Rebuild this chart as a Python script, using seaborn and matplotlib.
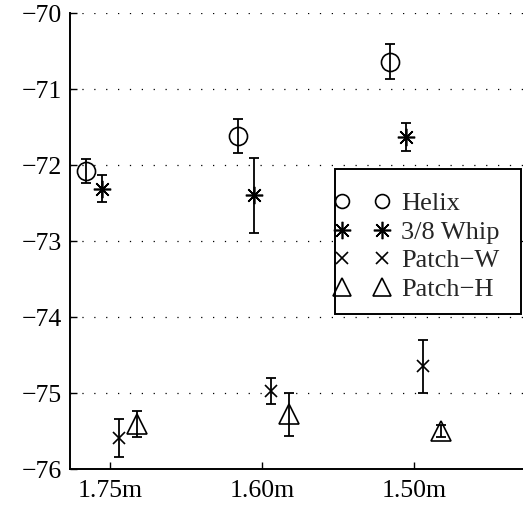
import numpy as np
import matplotlib
matplotlib.use("Agg")
import matplotlib.pyplot as plt
import seaborn as sns
from matplotlib.lines import Line2D
from matplotlib.patches import Rectangle

# antenna length groups
groups = ["1.75m", "1.60m", "1.50m"]

# mean level (dB) and error bar half-width per antenna
helix = [-72.08, -71.62, -70.64]
helix_err = [0.16, 0.22, 0.23]
whip = [-72.31, -72.40, -71.63]
whip_err = [0.18, 0.49, 0.18]
patch_w = [-75.59, -74.97, -74.65]
patch_w_err = [0.25, 0.17, 0.35]
patch_h = [-75.41, -75.28, -75.50]
patch_h_err = [0.17, 0.28, 0.08]

sns.set_style("white")
plt.rcParams["font.family"] = ["Liberation Serif", "DejaVu Serif"]

fig = plt.figure(figsize=(5.23, 5.09), dpi=100)
ax = fig.add_axes([70 / 523, 1 - 469 / 509, 1 - 70 / 523, 456 / 509])

# (label, values, errors, x offset, marker, size)
series = [
    ("Helix", helix, helix_err, -0.16, "o", 13),
    ("3/8 Whip", whip, whip_err, -0.055, (8, 2, 0), 12.5),
    ("Patch\u2212W", patch_w, patch_w_err, 0.06, "x", 8.5),
    ("Patch\u2212H", patch_h, patch_h_err, 0.175, "^", 15),
]

pos = np.arange(len(groups))
handles = []
for label, vals, errs, off, mk, ms in series:
    ax.errorbar(pos + off, vals, yerr=errs, fmt="none", ecolor="k",
                elinewidth=1.3, capsize=3.3, capthick=1.3, zorder=3)
    ax.plot(pos + off, vals, ls="none", marker=mk, ms=ms, mfc="none",
            mec="k", mew=1.2, zorder=3)
    lms = 10 if mk == "o" else (13 if mk == "^" else ms)
    handles.append(Line2D([], [], ls="none", marker=mk, ms=lms, mfc="none",
                          mec="k", mew=1.2, label=label))

ax.set_xlim(-0.263, 2.717)
ax.set_ylim(-76, -70)
ax.set_xticks(pos)
ax.set_xticklabels(groups)
ax.set_yticks(np.arange(-76, -69, 1))

ax.yaxis.grid(True, linestyle=(0, (1, 8.5)), color="k", linewidth=0.9)
ax.xaxis.grid(False)
ax.set_axisbelow(True)

for s in ["top", "right"]:
    ax.spines[s].set_visible(False)
for s in ["left", "bottom"]:
    ax.spines[s].set_color("k")
    ax.spines[s].set_linewidth(1.4)

ax.tick_params(axis="both", direction="in", length=5, width=1, colors="k",
               labelsize=18.5, left=True, bottom=True)
ax.tick_params(axis="y", pad=6)
ax.tick_params(axis="x", pad=8)

# legend box (white, black frame)
box = Rectangle((335 / 523, 1 - 314 / 509), 186 / 523, 145 / 509,
                transform=fig.transFigure, facecolor="white", edgecolor="k",
                linewidth=1.4, zorder=4, clip_on=False)
ax.add_patch(box)

leg = ax.legend(handles=handles, numpoints=2, frameon=False, fontsize=19,
                loc="upper left", bbox_to_anchor=(334 / 523, 1 - 192 / 509),
                bbox_transform=fig.transFigure, borderpad=0, borderaxespad=0,
                handlelength=2.1, handletextpad=0.45, labelspacing=0.19)
leg.set_zorder(5)

fig.savefig("out.png", dpi=100)
